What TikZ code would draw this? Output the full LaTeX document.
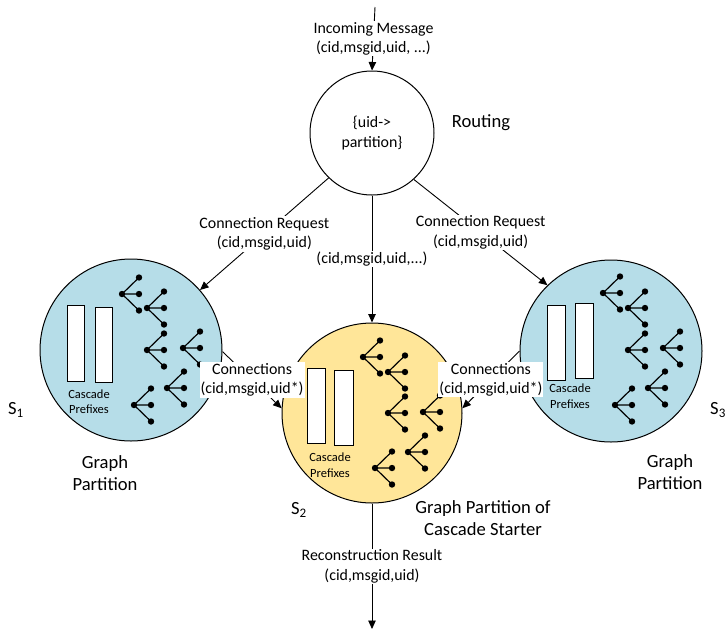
\documentclass[tikz,border=0pt]{standalone}
\usepackage{fontspec}
\setmainfont{Carlito}
\usetikzlibrary{arrows.meta}
\definecolor{partblue}{RGB}{182,221,232}
\definecolor{partgold}{RGB}{255,230,153}
\newcommand{\lblfont}{\fontsize{15.9}{19.5}\selectfont}
\newcommand{\bigfont}{\fontsize{18.6}{22}\selectfont}
\newcommand{\smlfont}{\fontsize{12.5}{15.5}\selectfont}
\newcommand{\casctree}[2]{%
  \draw[treeline] (#1,#2) -- ++(17,-16.5) (#1,#2) -- ++(17,0) (#1,#2) -- ++(17,16.5);
  \fill (#1,#2) circle[radius=3.2pt];
  \fill (#1,#2) ++(17,-16.5) circle[radius=3.2pt];
  \fill (#1,#2) ++(17,0) circle[radius=3.2pt];
  \fill (#1,#2) ++(17,16.5) circle[radius=3.2pt];
}
\tikzset{
  part/.style={circle, draw, line width=1pt, inner sep=0pt},
  treeline/.style={line width=1.2pt},
  prefbox/.style={draw, fill=white, line width=0.9pt},
  conn/.style={draw, line width=0.9pt, -{Triangle[length=8.5pt,width=7.5pt]}},
  lab/.style={fill=white, inner sep=1pt, align=center, font=\lblfont},
  bigl/.style={align=center, font=\bigfont, inner sep=0pt},
  small/.style={align=center, font=\smlfont, inner sep=0pt},
}
\begin{document}
\begin{tikzpicture}[x=1pt,y=-1pt]
\useasboundingbox (0,0) rectangle (728,630);

% circles
\node[part, minimum size=124pt, align=center, font=\lblfont] (routing) at (372,133) {\{uid->\\partition\}};
\node[part, fill=partblue, minimum size=182pt] (s1) at (131,350) {};
\node[part, fill=partgold, minimum size=180pt] (s2) at (372,413) {};
\node[part, fill=partblue, minimum size=182pt] (s3) at (611,351) {};

% cascade prefixes
\draw[prefbox] (67,305) rectangle (84,381);
\draw[prefbox] (95,307) rectangle (112,382);
\node[small] (cp1) at (89,401.5) {Cascade\\Prefixes};
\draw[prefbox] (307,368) rectangle (325,443);
\draw[prefbox] (334,370) rectangle (353,445);
\node[small] (cp2) at (330,465) {Cascade\\Prefixes};
\draw[prefbox] (547,305) rectangle (565,380);
\draw[prefbox] (575,303) rectangle (593,378);
\node[small] (cp3) at (570,396) {Cascade\\Prefixes};

% trees
\casctree{122}{294}\casctree{147}{308}\casctree{147}{350}
\casctree{183}{348}\casctree{167}{388}\casctree{134}{405}
\casctree{363}{357}\casctree{388}{372}\casctree{388}{413}
\casctree{423}{412}\casctree{408}{452}\casctree{375}{468}
\casctree{603}{293}\casctree{628}{308}\casctree{628}{350}
\casctree{663}{348}\casctree{648}{388}\casctree{615}{405}

% connectors
\coordinate (intop) at (375,7);
\coordinate (outbot) at (372,629);
\draw[conn] (intop) -- node[lab] (inlab) {Incoming Message\\(cid,msgid,uid, ...)} (routing.north);
\draw[conn] (routing.226) -- node[lab] (crl) {Connection Request\\(cid,msgid,uid)} (s1.41);
\draw[conn] (routing.south) -- node[lab] (midlab) {(cid,msgid,uid,...)} (s2.north);
\draw[conn] (routing.312.5) -- node[lab] (crr) {Connection Request\\(cid,msgid,uid)} (s3.134);
\draw[conn] (s1.-1) -- node[lab] (cl) {Connections\\(cid,msgid,uid*)} (s2.177);
\draw[conn] (s3.180) -- node[lab] (cr) {Connections\\(cid,msgid,uid*)} (s2.3);
\draw[conn] (s2.south) -- node[lab] (res) {Reconstruction Result\\(cid,msgid,uid)} (outbot);

% big labels
\node[bigl] (routlab) at (481,123) {Routing};
\node[bigl, anchor=west] (s1lab) at (8,410) {S\textsubscript{1}};
\node[bigl, anchor=west] (s2lab) at (291,510) {S\textsubscript{2}};
\node[bigl, anchor=west] (s3lab) at (710,410) {S\textsubscript{3}};
\node[bigl] (gp1) at (105,473) {Graph\\Partition};
\node[bigl] (gp3) at (670,472) {Graph\\Partition};
\node[bigl] (gp2) at (483,518) {Graph Partition of\\Cascade Starter};
\end{tikzpicture}
\end{document}
